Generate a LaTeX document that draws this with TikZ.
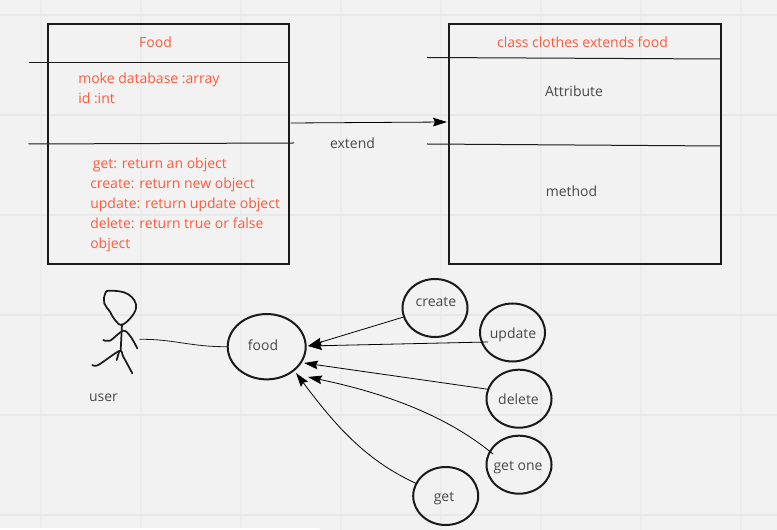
\documentclass[tikz,border=0pt]{standalone}
\usepackage{fontspec}
\setmainfont{Open Sans}
\usetikzlibrary{shapes.geometric,arrows.meta}
\definecolor{boardbg}{HTML}{F2F2F2}
\definecolor{gridline}{HTML}{E8E8E8}
\definecolor{gridlinev}{HTML}{ECECEC}
\definecolor{inkline}{HTML}{1A1A1A}
\definecolor{redtext}{HTML}{FF5A3C}
\definecolor{greytext}{HTML}{484848}
\tikzset{
  classbox/.style={draw=inkline,line width=1.5pt,rectangle,inner sep=0pt,outer sep=0pt,anchor=north west},
  usecase/.style={draw=inkline,line width=1.5pt,ellipse,inner sep=0pt,outer sep=0pt},
  divider/.style={draw=inkline,line width=0.75pt},
  callarrow/.style={draw=black,line width=0.6pt,-{Stealth[length=10.5pt,width=6.5pt,inset=1.5pt]}},
  stickline/.style={draw=inkline,line width=1.3pt,line cap=round,line join=round},
  redlabel/.style={text=redtext,font=\fontsize{10.5}{15}\selectfont,inner sep=0pt},
  greylabel/.style={text=greytext,font=\fontsize{10.5}{15}\selectfont,inner sep=0pt}
}
\begin{document}
\begin{tikzpicture}[x=0.75pt,y=-0.75pt]
\useasboundingbox (0,0) rectangle (777,530);
\fill[boardbg] (0,0) rectangle (777,530);
\foreach \gx in {41,141,...,741}
  \draw[gridlinev,line width=1.4pt] (\gx,0) -- (\gx,530);
\foreach \gy in {15,115,...,515}
  \draw[gridline,line width=0.8pt] (0,\gy) -- (777,\gy);
\fill[white,rounded corners=1.5pt] (-5,528) rectangle (320,535);

% class boxes
\node[classbox,minimum width=180.75pt,minimum height=180pt] (foodbox) at (48,24) {};
\node[classbox,minimum width=204pt,minimum height=180pt] (clothesbox) at (449,24) {};

\coordinate (fooddivA) at (28.5,63);
\coordinate (fooddivB) at (28.5,144);
\coordinate (fooddivBend) at (294,143);
\coordinate (clothesdivA) at (427,57.5);
\coordinate (clothesdivAend) at (721,59);
\coordinate (clothesdivB) at (427,144);
\coordinate (clothesdivBend) at (721,146);
\draw[divider] (fooddivA) -- (foodbox.east |- fooddivA);
\draw[divider] (fooddivB) -- (fooddivBend);
\draw[divider] (clothesdivA) -- (clothesdivAend);
\draw[divider] (clothesdivB) -- (clothesdivBend);

\node[redlabel] (foodtitle) at (155.5,42) {Food};
\node[redlabel,anchor=north west,align=left] (foodattrs) at (78,73) {moke database :array\\id :int};
\node[redlabel,anchor=north west,align=left] (foodmethods) at (90,158) {\hspace*{2pt}get: return an object\\create: return new object\\update: return update object\\delete: return true or false\\object};
\node[redlabel] (clothestitle) at (582.5,42) {class clothes extends food};
\node[greylabel] (attrlabel) at (574,91) {Attribute};
\node[greylabel] (methodlabel) at (571.5,191) {method};

\coordinate (extendstart) at (290.5,123);
\coordinate (extendend) at (447,122);
\draw[callarrow] (extendstart) -- (extendend);
\node[greylabel] (extendlabel) at (352.5,143) {extend};

% use cases
\node[usecase,minimum width=58.5pt,minimum height=49pt] (food) at (266.7,346.7) {};
\node[usecase,minimum width=48.75pt,minimum height=43.5pt] (create) at (435,308) {};
\node[usecase,minimum width=48.75pt,minimum height=43.5pt] (update) at (512.5,332.5) {};
\node[usecase,minimum width=48.75pt,minimum height=43.5pt] (delete) at (519,398.7) {};
\node[usecase,minimum width=48.75pt,minimum height=43.5pt] (getone) at (519,464.7) {};
\node[usecase,minimum width=48.75pt,minimum height=43.5pt] (get) at (445.7,496) {};

\node[greylabel] (foodtext) at (263,345) {food};
\node[greylabel] (createtext) at (436,302) {create};
\node[greylabel] (updatetext) at (513,335) {update};
\node[greylabel] (deletetext) at (518.5,399) {delete};
\node[greylabel] (getonetext) at (518,468) {get one};
\node[greylabel] (gettext) at (444,499) {get};
\node[greylabel] (usertext) at (103.5,398) {user};

\coordinate (updatestart) at (488,342);
\coordinate (updatetip) at (308,346);
\coordinate (getonestart) at (493,454);
\coordinate (getonetip) at (308,377);
\coordinate (deletetip) at (304,363);
\coordinate (gettip) at (296,373);
\coordinate (useredge) at (139.3,339.3);

\draw[callarrow] (create.196) -- (updatetip);
\draw[callarrow] (updatestart) -- (updatetip);
\draw[callarrow] (delete.163) -- (deletetip);
\draw[callarrow] (getonestart) .. controls (440,410) and (370,390) .. (getonetip);
\draw[callarrow] (get.157) .. controls (365,460) and (335,425) .. (gettip);
\draw[draw=inkline,line width=0.6pt] (useredge) .. controls (175,339) and (190,347) .. (food.west);

% user figure
\draw[stickline] plot[smooth cycle,tension=0.7] coordinates {(110,290.7) (128.3,294.3) (136,308.3) (123.3,324.3) (115,320) (110,311.7) (104.3,303.3) (105,294)};
\draw[stickline] (122,324.3) -- (120.7,350);
\draw[stickline] plot[smooth,tension=0.5] coordinates {(103.3,340) (110,340.7) (123.3,330.7) (130.7,336.7) (137.3,348.3)};
\draw[stickline] plot[smooth,tension=0.5] coordinates {(92.3,365) (98.3,365) (119.3,351) (123.3,356.7) (132.3,373.3)};
\draw[stickline] (119.3,351) -- (116.7,360);
\end{tikzpicture}
\end{document}
